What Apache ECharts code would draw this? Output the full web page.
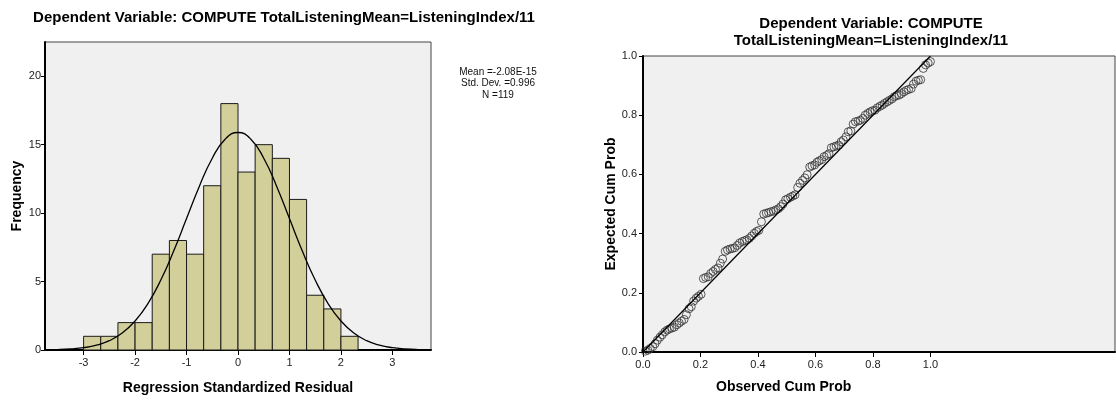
<!DOCTYPE html>
<html>
<head>
<meta charset="utf-8">
<script src="https://cdn.jsdelivr.net/npm/echarts@6/dist/echarts.min.js"></script>
<style>
    html, body { margin: 0; padding: 0; background: #fff; }
    #chart { width: 1116px; height: 400px; }
</style>
</head>
<body>
<div id="chart"></div>
<script>
/* histogram of residuals */
const binEdges = [-3, -2.667, -2.333, -2, -1.667, -1.333, -1, -0.667, -0.333, 0, 0.333, 0.667, 1, 1.333, 1.667, 2, 2.333];
const binCounts = [1, 1, 2, 2, 7, 8, 7, 12, 18, 13, 15, 14, 11, 4, 3, 1];
const histTicks = [-3, -2, -1, 0, 1, 2, 3];
const freqTicks = [0, 5, 10, 15, 20];

/* normal curve */
const curveX = [-3.75, -3.5, -3.25, -3, -2.75, -2.5, -2.25, -2, -1.75, -1.5, -1.25, -1, -0.75, -0.5, -0.25, 0,
    0.25, 0.5, 0.75, 1, 1.25, 1.5, 1.75, 2, 2.25, 2.5, 2.75, 3, 3.25, 3.5, 3.75];
const curveY = [0.01, 0.03, 0.08, 0.17, 0.35, 0.68, 1.24, 2.12, 3.39, 5.11, 7.23, 9.6, 11.97, 14.01, 15.4, 15.89,
    15.4, 14.01, 11.97, 9.6, 7.23, 5.11, 3.39, 2.12, 1.24, 0.68, 0.35, 0.17, 0.08, 0.03, 0.01];

const statLines = ['Mean =-2.08E-15', 'Std. Dev. =0.996', 'N =119'];

/* P-P plot */
const observedCum = [
    0.008, 0.017, 0.025, 0.034, 0.042, 0.050, 0.059, 0.067, 0.076, 0.084,
    0.092, 0.101, 0.109, 0.118, 0.126, 0.134, 0.143, 0.151, 0.160, 0.168,
    0.176, 0.185, 0.193, 0.202, 0.210, 0.218, 0.227, 0.235, 0.244, 0.252,
    0.261, 0.269, 0.277, 0.286, 0.294, 0.303, 0.311, 0.319, 0.328, 0.336,
    0.345, 0.353, 0.361, 0.370, 0.378, 0.387, 0.395, 0.403, 0.412, 0.420,
    0.429, 0.437, 0.445, 0.454, 0.462, 0.471, 0.479, 0.487, 0.496, 0.504,
    0.513, 0.521, 0.529, 0.538, 0.546, 0.555, 0.563, 0.571, 0.580, 0.588,
    0.597, 0.605, 0.613, 0.622, 0.630, 0.639, 0.647, 0.655, 0.664, 0.672,
    0.681, 0.689, 0.697, 0.706, 0.714, 0.723, 0.731, 0.739, 0.748, 0.756,
    0.765, 0.773, 0.782, 0.790, 0.798, 0.807, 0.815, 0.824, 0.832, 0.840,
    0.849, 0.857, 0.866, 0.874, 0.882, 0.891, 0.899, 0.908, 0.916, 0.924,
    0.933, 0.941, 0.950, 0.958, 0.966, 0.975, 0.983, 0.992, 1.000,
];
const expectedCum = [
    0.003, 0.006, 0.012, 0.018, 0.028, 0.040, 0.050, 0.058, 0.068, 0.074,
    0.078, 0.081, 0.084, 0.092, 0.098, 0.104, 0.110, 0.126, 0.146, 0.153,
    0.172, 0.182, 0.188, 0.195, 0.248, 0.252, 0.254, 0.265, 0.272, 0.279,
    0.284, 0.300, 0.314, 0.340, 0.345, 0.348, 0.350, 0.352, 0.360, 0.368,
    0.373, 0.376, 0.379, 0.384, 0.392, 0.401, 0.407, 0.411, 0.440, 0.466,
    0.469, 0.471, 0.474, 0.476, 0.480, 0.484, 0.491, 0.500, 0.514, 0.518,
    0.523, 0.527, 0.531, 0.556, 0.570, 0.580, 0.588, 0.599, 0.625, 0.629,
    0.632, 0.641, 0.646, 0.650, 0.660, 0.664, 0.670, 0.690, 0.693, 0.696,
    0.699, 0.710, 0.716, 0.727, 0.744, 0.747, 0.770, 0.778, 0.780, 0.783,
    0.789, 0.800, 0.806, 0.811, 0.815, 0.817, 0.825, 0.830, 0.834, 0.840,
    0.845, 0.850, 0.855, 0.862, 0.866, 0.868, 0.873, 0.879, 0.884, 0.887,
    0.890, 0.905, 0.915, 0.918, 0.920, 0.958, 0.970, 0.976, 0.981,
];
const probTicks = [0, 0.2, 0.4, 0.6, 0.8, 1.0];

const FONT = '"Liberation Sans", Arial, sans-serif';
const tickLabel = { color: '#222', fontSize: 11, fontFamily: FONT };
const nameStyle = { color: '#000', fontSize: 14, fontWeight: 'bold', fontFamily: FONT };

const chart = echarts.init(document.getElementById('chart'));

chart.setOption({
    animation: false,
    title: [
        {
            text: 'Dependent Variable: COMPUTE TotalListeningMean=ListeningIndex/11',
            left: 279, top: 5, textAlign: 'center',
            textStyle: { fontSize: 15, fontWeight: 'bold', fontFamily: FONT, color: '#000' },
        },
        {
            text: 'Dependent Variable: COMPUTE\nTotalListeningMean=ListeningIndex/11',
            left: 866, top: 10, textAlign: 'center',
            textStyle: { fontSize: 15, fontWeight: 'bold', fontFamily: FONT, color: '#000', lineHeight: 17 },
        },
    ],
    graphic: [
        {
            type: 'text', x: 498, y: 66,
            style: { text: statLines.join('\n'), fontSize: 10, lineHeight: 11.5, fontFamily: FONT, fill: '#111', align: 'center' },
        },
        {
            type: 'text', left: 716, top: 380,
            style: { text: 'Observed Cum Prob', fontSize: 14, fontWeight: 'bold', fontFamily: FONT, fill: '#000' },
        },
    ],
    grid: [
        { left: 45, top: 42, width: 386, height: 309, show: true, backgroundColor: '#f0f0f0', borderColor: '#444', borderWidth: 1 },
        { left: 643, top: 56, width: 472, height: 296, show: true, backgroundColor: '#f0f0f0', borderColor: '#444', borderWidth: 1 },
    ],
    xAxis: [
        {
            type: 'value', gridIndex: 0, min: -3.75, max: 3.75,
            name: 'Regression Standardized Residual', nameLocation: 'middle', nameGap: 31, nameTextStyle: nameStyle,
            splitLine: { show: false },
            axisLine: { onZero: false, lineStyle: { color: '#000', width: 2 } },
            axisTick: { customValues: histTicks, length: 5, lineStyle: { color: '#000' } },
            axisLabel: { ...tickLabel, customValues: histTicks, margin: 7 },
        },
        {
            type: 'value', gridIndex: 1, min: 0, max: 1.642,
            splitLine: { show: false },
            axisLine: { onZero: false, lineStyle: { color: '#000', width: 2 } },
            axisTick: { customValues: probTicks, length: 5, lineStyle: { color: '#000' } },
            axisLabel: { ...tickLabel, customValues: probTicks, margin: 7, formatter: v => v.toFixed(1) },
        },
    ],
    yAxis: [
        {
            type: 'value', gridIndex: 0, min: 0, max: 22.5,
            name: 'Frequency', nameLocation: 'middle', nameGap: 21, nameTextStyle: nameStyle,
            splitLine: { show: false },
            axisLine: { show: true, onZero: false, lineStyle: { color: '#000', width: 2 } },
            axisTick: { show: true, customValues: freqTicks, length: 4, lineStyle: { color: '#000' } },
            axisLabel: { ...tickLabel, customValues: freqTicks, margin: 4 },
        },
        {
            type: 'value', gridIndex: 1, min: 0, max: 1,
            name: 'Expected Cum Prob', nameLocation: 'middle', nameGap: 23, nameTextStyle: nameStyle,
            splitLine: { show: false },
            axisLine: { show: true, onZero: false, lineStyle: { color: '#000', width: 2 } },
            axisTick: { show: true, customValues: probTicks, length: 4, lineStyle: { color: '#000' } },
            axisLabel: { ...tickLabel, customValues: probTicks, margin: 6, formatter: v => v.toFixed(1) },
        },
    ],
    series: [
        {
            type: 'custom', xAxisIndex: 0, yAxisIndex: 0,
            data: binCounts.map((n, i) => [binEdges[i], binEdges[i + 1], n]),
            encode: { x: [0, 1], y: 2 },
            renderItem: (params, api) => {
                const topLeft = api.coord([api.value(0), api.value(2)]);
                const bottomRight = api.coord([api.value(1), 0]);
                return {
                    type: 'rect',
                    shape: { x: topLeft[0], y: topLeft[1], width: bottomRight[0] - topLeft[0], height: bottomRight[1] - topLeft[1] },
                    style: { fill: '#d3cf9b', stroke: '#1a1a1a', lineWidth: 1 },
                };
            },
        },
        {
            type: 'line', xAxisIndex: 0, yAxisIndex: 0, smooth: true, showSymbol: false, z: 5,
            data: curveX.map((x, i) => [x, curveY[i]]),
            lineStyle: { color: '#000', width: 1.3 },
        },
        {
            type: 'line', xAxisIndex: 1, yAxisIndex: 1, showSymbol: false,
            data: [[0, 0], [1, 1]],
            lineStyle: { color: '#000', width: 1.2 },
        },
        {
            type: 'scatter', xAxisIndex: 1, yAxisIndex: 1, symbol: 'circle', symbolSize: 8,
            data: observedCum.map((x, i) => [x, expectedCum[i]]),
            itemStyle: { color: 'rgba(0,0,0,0)', borderColor: '#333', borderWidth: 1 },
        },
    ],
});
</script>
</body>
</html>
